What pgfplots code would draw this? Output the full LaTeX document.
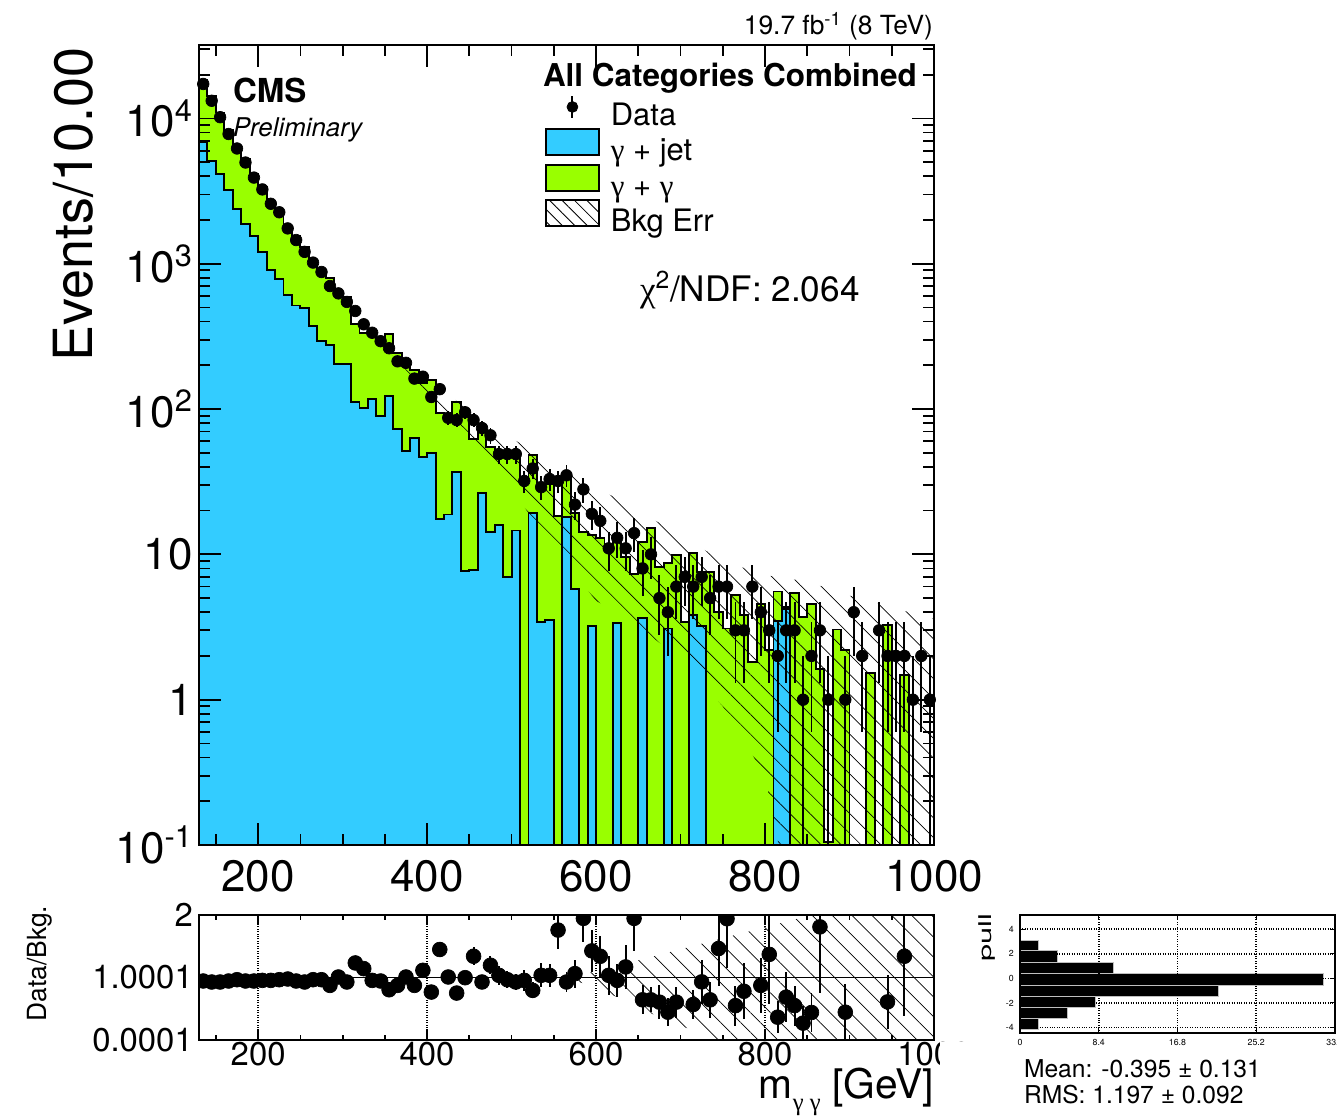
\documentclass[border=0pt]{standalone}
\usepackage{pgfplots}
\pgfplotsset{compat=1.18}
\usepackage{pgfplotstable}
\usepackage{graphicx}
\usepackage{fontspec}
\setmainfont{TeX Gyre Heros}
\newfontfamily\grk{Liberation Serif}
\usetikzlibrary{patterns.meta}
\definecolor{jetc}{RGB}{51,204,255}
\definecolor{ggc}{RGB}{153,255,0}
\tikzset{hatch/.style={pattern={Lines[angle=-45,distance=8pt,line width=0.4pt]},pattern color=black},
  txt/.style={inner sep=0pt, outer sep=0pt}}

\pgfplotstableread{
x jet tot
130 6870 18280
140 5115 14250
150 4120 10980
160 3197 8270
170 2387 6435
180 1879 5265
190 1546 4147
200 1197 3400
210 906 2710
220 785 2342
230 608 1793
240 516 1541
250 494 1301
260 371 1055
270 292 909
280 277 803
290 203 620
300 203 588
310 111 384
320 101 335
330 117 351
340 89.6 310
350 123 326
360 72.4 244
370 51.8 206
380 63.4 185
390 46.6 150
400 49.6 158
410 17.4 94.6
420 18.8 88
430 37.1 111
440 7.71 95.5
450 7.83 62
460 26.3 75
470 14.3 55
480 15.9 49.5
490 6.97 51.5
500 14.6 50
510 0.001 33.5
520 19.4 48
530 3.44 29.5
540 3.53 30.7
550 0.001 18.3
560 18.1 35.6
570 5.78 19.3
580 0.001 14.3
590 3.23 13.5
600 0.001 13
610 0.001 11.5
620 3.38 12.3
630 0.001 9.6
640 0.001 7.3
650 3.64 12.2
660 0.001 15.2
670 0.001 8.2
680 3.09 8.7
690 0.001 9.9
700 0.001 3.4
710 3.82 10.2
720 3.2 7.55
730 0.001 7.55
740 0.001 4.04
750 0.001 3.09
760 0.001 5.26
770 0.001 3.82
780 0.001 1.83
790 0.001 4.53
800 0.001 2.19
810 3.5 5.55
820 4.2 4.37
830 0.001 5.4
840 0.001 3.72
850 0.001 4.53
860 0.001 1.63
870 0.001 0.105
880 0.001 3.04
890 0.001 2.21
900 0.001 0.001
910 0.001 0.001
920 0.001 1.53
930 0.001 0.001
940 0.001 3.26
950 0.001 0.001
960 0.001 1.48
970 0.001 0.001
980 0.001 0.001
990 0.001 0.001
1000 0.001 0.001
}\bkg

\pgfplotstableread{
x y ep em
135 17260 131 131
145 13220 115 115
155 10190 101 101
165 7810 88 88
175 6210 79 79
185 4970 70 70
195 3915 63 63
205 3245 57 57
215 2585 51 51
225 2260 48 48
235 1750 42 42
245 1455 38 38
255 1207 35 35
265 1018 32 32
275 877 30 30
285 702 26 26
295 625 25 25
305 546 23 23
315 473 22 22
325 383 20 20
335 335 18 18
345 293 17 17
355 262 16 16
365 213 15 15
375 208 14 14
385 162 13 13
395 167 13 13
405 121 11 11
415 137 12 12
425 87 9.3 9.3
435 84 9.2 9.2
445 95 9.7 9.7
455 84 9.2 9.2
465 74 8.6 8.6
475 66 8.1 8.1
485 49 7 7
495 49 7 7
505 49 7 7
515 32 5.7 5.7
525 39 6.2 6.2
535 29 5.4 5.4
545 33 5.7 5.7
555 32 5.7 5.7
565 35 5.9 5.9
575 22 4.7 4.7
585 28 5.3 5.3
595 19 4.4 4.4
605 17 4.1 4.1
615 11 3.3 3.3
625 13 3.6 3.6
635 11 3.3 3.3
645 14 3.7 3.7
655 8 2.8 2.8
665 10 3.2 3.2
675 5 2.2 2.2
685 4 2 2
695 6 2.4 2.4
705 7 2.6 2.6
715 6 2.4 2.4
725 7 2.6 2.6
735 5 2.2 2.2
745 6 2.4 2.4
755 6 2.4 2.4
765 3 1.7 1.7
775 3 1.7 1.7
785 6 2.4 2.4
795 4 2 2
805 3 1.7 1.7
815 2 1.4 1.4
825 3 1.7 1.7
835 3 1.7 1.7
845 1 1 0.999
855 2 1.4 1.4
865 3 1.7 1.7
875 1 1 0.999
895 1 1 0.999
905 4 2 2
915 2 1.4 1.4
935 3 1.7 1.7
945 2 1.4 1.4
955 2 1.4 1.4
965 2 1.4 1.4
975 1 1 0.999
985 2 1.4 1.4
995 1 1 0.999
}\data

\pgfplotstableread{
x r er
135 0.944 0.007
145 0.928 0.008
155 0.928 0.009
165 0.944 0.011
175 0.965 0.012
185 0.944 0.013
195 0.944 0.015
205 0.954 0.017
215 0.954 0.019
225 0.965 0.02
235 0.976 0.023
245 0.944 0.025
255 0.928 0.027
265 0.965 0.03
275 0.965 0.033
285 0.874 0.033
295 1.008 0.04
305 0.928 0.04
315 1.233 0.057
325 1.142 0.058
335 0.954 0.052
345 0.944 0.055
355 0.804 0.05
365 0.874 0.06
375 1.008 0.07
385 0.874 0.069
395 1.115 0.086
405 0.767 0.07
415 1.448 0.124
425 1.008 0.108
435 0.751 0.082
445 0.997 0.10
455 1.340 0.146
465 0.928 0.108
475 1.196 0.147
485 1.035 0.148
495 0.965 0.138
505 0.928 0.133
515 0.954 0.168
525 0.794 0.128
535 1.035 0.19
545 1.035 0.18
555 1.759 0.31
565 0.928 0.157
575 1.062 0.226
585 1.946 0.37
595 1.426 0.33
605 1.340 0.33
615 1.035 0.31
625 0.954 0.265
635 1.169 0.35
645 1.946 0.52
655 0.643 0.23
665 0.643 0.2
675 0.606 0.27
685 0.445 0.22
695 0.606 0.25
715 0.568 0.23
725 0.93 0.35
735 0.643 0.29
745 1.464 0.6
755 1.94 0.79
765 0.55 0.32
775 0.78 0.45
795 0.874 0.44
805 1.37 0.79
815 0.365 0.26
825 0.686 0.4
835 0.55 0.32
845 0.27 0.27
855 0.44 0.31
865 1.81 1.05
895 0.445 0.445
945 0.61 0.43
965 1.34 0.95
}\ratio

\begin{document}
\begin{tikzpicture}
\useasboundingbox (0,0) rectangle (26.74,22.34);

% ---------------- main panel
\begin{axis}[
  at={(3.98cm,5.44cm)}, anchor=south west, scale only axis,
  width=14.7cm, height=16cm,
  xmin=130, xmax=1000, ymode=log, ymin=0.1, ymax=32000,
  log origin y=infty, enlargelimits=false, axis on top,
  xtick={200,400,600,800,1000}, minor xtick={150,200,...,1000},
  ytick={0.1,1,10,100,1000,10000},
  yticklabels={10\textsuperscript{-1},1,10,10\textsuperscript{2},10\textsuperscript{3},10\textsuperscript{4}},
  minor ytick={0.2,0.3,0.4,0.5,0.6,0.7,0.8,0.9,2,3,4,5,6,7,8,9,20,30,40,50,60,70,80,90,200,300,400,500,600,700,800,900,2000,3000,4000,5000,6000,7000,8000,9000,20000,30000},
  major tick length=0.44cm, minor tick length=0.22cm,
  tick style={line width=1pt,black},
  axis line style={line width=1.1pt},
  tick label style={font=\fontsize{25}{25}\selectfont},
  xticklabel style={yshift=-0.18cm},
  /pgf/number format/assume math mode=true, /pgf/number format/1000 sep={},
  legend style={at={(axis description cs:0.4707,0.9375)}, anchor=north west,
    draw=none, fill=none, inner sep=0pt, outer sep=0pt, row sep=-0.06cm,
    font=\fontsize{17.6}{20}\selectfont,
    nodes={inner sep=0pt, text height=0.46cm, text depth=0.12cm},
    /tikz/every odd column/.append style={column sep=0.22cm}},
  legend cell align=left,
]
\addlegendimage{legend image code/.code={\draw[line width=1.1pt] (0.53cm,-0.02cm)--(0.53cm,0.42cm); \fill (0.53cm,0.2cm) circle (3.1pt);}}
\addlegendentry{Data}
\addlegendimage{legend image code/.code={\draw[line width=1.1pt,fill=jetc] (0cm,-0.06cm) rectangle (1.06cm,0.46cm);}}
\addlegendentry{{\grk γ} + jet}
\addlegendimage{legend image code/.code={\draw[line width=1.1pt,fill=ggc] (0cm,-0.06cm) rectangle (1.06cm,0.46cm);}}
\addlegendentry{{\grk γ} + {\grk γ}}
\addlegendimage{legend image code/.code={\draw[line width=1.1pt,pattern={Lines[angle=-45,distance=5pt,line width=0.5pt]}] (0cm,-0.06cm) rectangle (1.06cm,0.46cm);}}
\addlegendentry{Bkg Err}

\addplot[const plot, fill=ggc, draw=black, line width=1.1pt, forget plot] table[x=x,y=tot]{\bkg} \closedcycle;
\addplot[const plot, fill=jetc, draw=black, line width=1.1pt, forget plot] table[x=x,y=jet]{\bkg} \closedcycle;
\addplot[draw=none, hatch, forget plot] coordinates {
 (280,850) (300,600) (350,300) (400,160) (450,98) (500,63) (550,42) (600,29)
 (650,20) (700,13.5) (750,9.0) (800,7.2) (850,6.5) (900,5.2) (950,4.3) (1000,3.6)
 (1000,0.01) (850,0.01) (800,0.3) (750,0.9) (700,1.9) (650,3.2) (600,4.8)
 (550,11) (500,28) (450,68) (400,130) (350,265) (300,540) (280,770)} -- cycle;
\addplot[only marks, mark=*, mark size=3.3pt, black, forget plot,
  error bars/.cd, y dir=both, y explicit, error bar style={line width=1.1pt}, error mark=none]
  table[x=x,y=y,y error plus=ep,y error minus=em]{\data};
\end{axis}

% ---------------- ratio panel
\begin{axis}[
  at={(3.98cm,1.54cm)}, anchor=south west, scale only axis,
  width=14.7cm, height=2.5cm,
  xmin=130, xmax=1000, ymin=0, ymax=2, enlargelimits=false, axis on top,
  xtick={200,400,600,800,1000}, minor xtick={150,200,...,1000},
  ytick={0,1,2}, yticklabels={0.0001,1.0001,2},
  xmajorgrids, grid style={densely dotted,line width=1pt,black},
  major tick length=0.2cm, minor tick length=0.1cm,
  tick style={line width=1pt,black},
  axis line style={line width=1.1pt},
  tick label style={font=\fontsize{18.7}{18.7}\selectfont},
  xticklabel style={yshift=0.08cm},
  /pgf/number format/assume math mode=true, /pgf/number format/1000 sep={},
  clip marker paths=true,
]
\addplot[draw=none, hatch] coordinates {
 (560,1.0) (600,1.1) (657,1.3) (742,1.6) (855,2.0) (1000,2.5)
 (1000,-0.5) (742,0.0) (657,0.47) (600,0.85) (560,1.0)} -- cycle;
\addplot[black, line width=1pt] coordinates {(130,1) (1000,1)};
\addplot[only marks, mark=*, mark size=4.2pt, black,
  error bars/.cd, y dir=both, y explicit, error bar style={line width=1.1pt}, error mark=none]
  table[x=x,y=r,y error=er]{\ratio};
\end{axis}

% ---------------- pull panel
\begin{axis}[
  at={(20.40cm,1.68cm)}, anchor=south west, scale only axis,
  width=6.3cm, height=2.36cm,
  xmin=0, xmax=33.6, ymin=-4.45, ymax=5.15, enlargelimits=false, axis on top,
  xtick={0,8.4,16.8,25.2,33.6}, ytick={-4,-2,0,2,4},
  grid=major, grid style={densely dotted,line width=0.9pt,black},
  major tick length=0.1cm, tick style={line width=0.6pt,black},
  axis line style={line width=1.1pt},
  tick label style={font=\fontsize{5}{5}\selectfont},
  /pgf/number format/assume math mode=true,
]
\addplot[xbar interval, fill=black, draw=gray!50, line width=0.4pt]
  coordinates {(2,-4.16) (5,-3.24) (8,-2.35) (21.2,-1.46) (32.4,-0.54) (10,0.41) (4,1.30) (2,2.24) (0,3.11)};
\end{axis}

% ---------------- texts
\fill[white] (18.80,0.74) rectangle (20.24,1.50);
\node[txt, anchor=base east, font=\fontsize{15}{15}\selectfont] at (18.66,21.64) {19.7 fb\textsuperscript{-1} (8 TeV)};
\node[txt, anchor=base west, font=\fontsize{18.8}{18.8}\selectfont\bfseries] at (4.66,20.28) {CMS};
\node[txt, anchor=base west, font=\fontsize{14.7}{14.7}\selectfont\itshape] at (4.66,19.60) {Preliminary};
\node[txt, anchor=base west, font=\fontsize{17.9}{17.9}\selectfont\bfseries] at (10.86,20.61) {All Categories Combined};
\node[txt, anchor=base west, font=\fontsize{20}{20}\selectfont] at (12.80,16.30) {{\grk χ}\textsuperscript{2}/NDF: 2.064};
\node[txt, anchor=base east, rotate=90, font=\fontsize{30.7}{30.7}\selectfont] at (1.84,21.38) {Events/10.00};
\node[txt, anchor=base east, rotate=90, font=\fontsize{15}{15}\selectfont] at (0.93,4.22) {Data/Bkg.};
\node[txt, anchor=base east, font=\fontsize{23.2}{23.2}\selectfont] at (18.68,0.38) {m\raisebox{-0.3em}{\fontsize{14}{14}\selectfont\grk γ γ} [GeV]};
\node[txt, anchor=base east, rotate=90, font=\fontsize{10}{10}\selectfont] at (19.82,4.06) {\scalebox{1.75}[1]{pull}};
\node[txt, anchor=base west, font=\fontsize{14}{14}\selectfont] at (20.48,0.80) {Mean: -0.395 ± 0.131};
\node[txt, anchor=base west, font=\fontsize{14}{14}\selectfont] at (20.48,0.28) {RMS: 1.197 ± 0.092};
\end{tikzpicture}
\end{document}
